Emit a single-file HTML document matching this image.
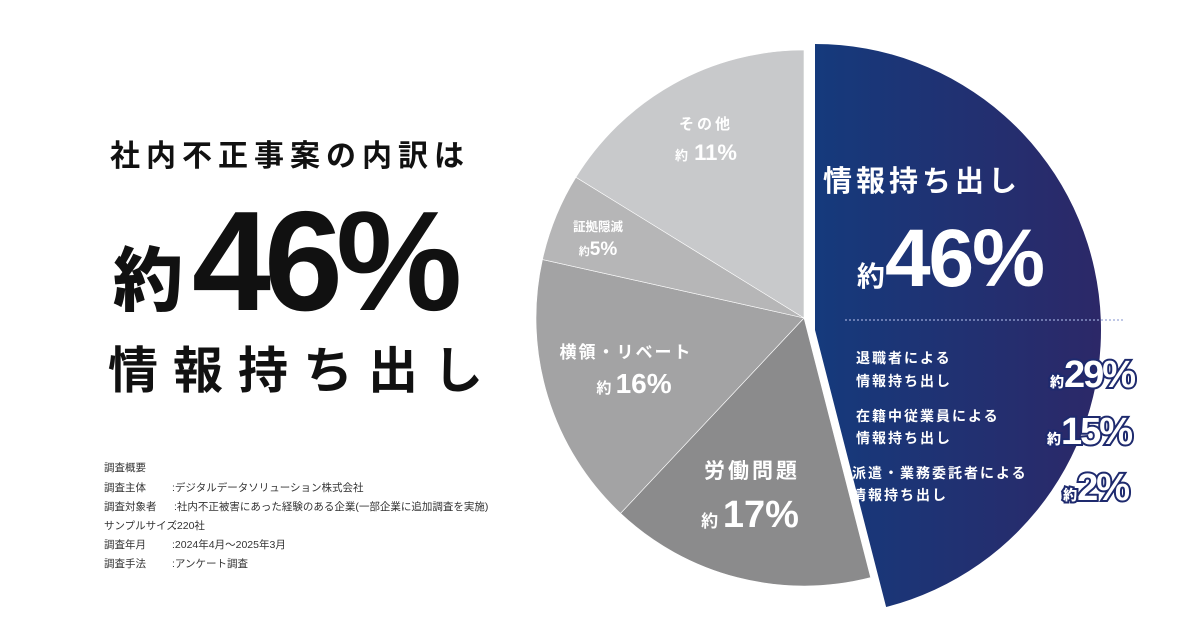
<!DOCTYPE html>
<html><head><meta charset="utf-8"><style>
body{margin:0;width:1200px;height:630px;background:#fff;overflow:hidden}
svg{display:block}
text{font-family:"Liberation Sans","Noto Sans CJK JP",sans-serif}
</style></head><body>
<svg id="chart" width="1200" height="630" viewBox="0 0 1200 630" xmlns="http://www.w3.org/2000/svg">
<defs>
<linearGradient id="blueGrad" x1="0" y1="0" x2="1" y2="0">
<stop offset="0" stop-color="#153a7c"/><stop offset="1" stop-color="#2c2868"/>
</linearGradient>
</defs>
<g id="slices"></g>
<g font-weight="700" fill="#111">
<text x="110" y="166" font-size="30" letter-spacing="6">社内不正事案の内訳は</text>
<text x="113" y="305" font-size="70" font-weight="900">約</text>
<text x="192" y="310" font-size="142" font-weight="900" letter-spacing="-7">46%</text>
<text x="108" y="388" font-size="50" letter-spacing="15">情報持ち出し</text>
</g>
<g font-size="10.5" fill="#333">
<text x="104" y="471">調査概要</text>
<text x="104" y="491">調査主体</text><text x="172" y="491">:デジタルデータソリューション株式会社</text>
<text x="104" y="510">調査対象者</text><text x="174" y="510">:社内不正被害にあった経験のある企業(一部企業に追加調査を実施)</text>
<text x="104" y="529">サンプルサイズ</text><text x="174" y="529">:220社</text>
<text x="104" y="548">調査年月</text><text x="172" y="548">:2024年4月～2025年3月</text>
<text x="104" y="567">調査手法</text><text x="172" y="567">:アンケート調査</text>
</g>
<g fill="#fff" font-weight="700" text-anchor="middle">
<text x="706" y="129" font-size="15" letter-spacing="3">その他</text>
<text x="706" y="160"><tspan font-size="13">約</tspan><tspan font-size="22"> 11%</tspan></text>
<text x="598" y="231" font-size="12.5">証拠隠滅</text>
<text x="598" y="255"><tspan font-size="11">約</tspan><tspan font-size="19">5%</tspan></text>
<text x="626" y="358" font-size="17" letter-spacing="2">横領・リベート</text>
<text x="634" y="393"><tspan font-size="15">約 </tspan><tspan font-size="28">16%</tspan></text>
<text x="752" y="478" font-size="21" letter-spacing="3">労働問題</text>
<text x="750" y="527"><tspan font-size="17">約 </tspan><tspan font-size="38">17%</tspan></text>
<text x="922" y="191" font-size="29" letter-spacing="4">情報持ち出し</text>
<text x="950" y="286"><tspan font-size="28">約</tspan><tspan font-size="82" letter-spacing="-2">46%</tspan></text>
</g>
<line x1="845" y1="320" x2="1125" y2="320" stroke="#9aa6d6" stroke-width="1.2" stroke-dasharray="2 2"/>
<g fill="#fff" font-weight="700" font-size="14" letter-spacing="2">
<text x="856" y="363">退職者による</text><text x="856" y="386">情報持ち出し</text>
<text x="856" y="421">在籍中従業員による</text><text x="856" y="443">情報持ち出し</text>
<text x="852" y="478">派遣・業務委託者による</text><text x="852" y="500">情報持ち出し</text>
</g>
<g fill="#fff" font-weight="900" stroke="#1e2a6e" stroke-width="4" paint-order="stroke" text-anchor="end">
<text x="1134" y="387"><tspan font-size="14">約</tspan><tspan font-size="38" letter-spacing="-2">29%</tspan></text>
<text x="1131" y="444"><tspan font-size="14">約</tspan><tspan font-size="38" letter-spacing="-2">15%</tspan></text>
<text x="1128" y="500"><tspan font-size="14">約</tspan><tspan font-size="38" letter-spacing="-2">2%</tspan></text>
</g>
</svg>
<script>
const categories = ["情報持ち出し","労働問題","横領・リベート","証拠隠滅","その他"];
const values = [46, 16, 16.5, 5.3, 16.2];
const colors = ["url(#blueGrad)","#8b8b8c","#a3a3a4","#b6b6b7","#c8c9cb"];
const slicesG = document.getElementById('slices');
const total = values.reduce((a,b)=>a+b,0);
function angleScale(v){return v/total*2*Math.PI;}
function pt(cx,cy,r,a){return [cx+r*Math.sin(a), cy-r*Math.cos(a)];}
let start = 0;
values.forEach((v,i)=>{
  const a0 = start, a1 = start + angleScale(v);
  start = a1;
  const first = i===0;
  const cx = first?815:804, cy = first?330:318, r = first?286:268;
  const p0 = pt(cx,cy,r,a0), p1 = pt(cx,cy,r,a1);
  const large = (a1-a0)>Math.PI?1:0;
  const path = document.createElementNS('http://www.w3.org/2000/svg','path');
  path.setAttribute('d',`M${cx},${cy} L${p0[0]},${p0[1]} A${r},${r} 0 ${large} 1 ${p1[0]},${p1[1]} Z`);
  path.setAttribute('fill',colors[i]);
  if(!first){path.setAttribute('stroke','#fff');path.setAttribute('stroke-width','0.6');}
  
  
  slicesG.appendChild(path);
});
</script>
</body></html>
